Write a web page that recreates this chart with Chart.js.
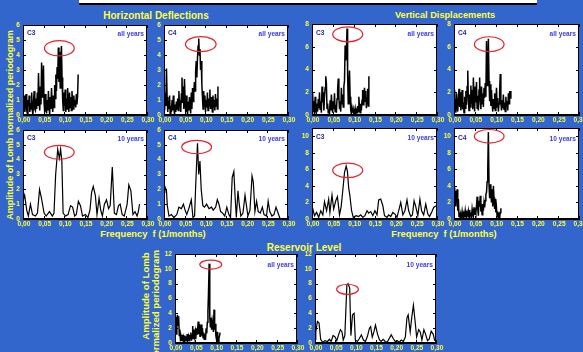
<!DOCTYPE html>
<html>
<head>
<meta charset="utf-8">
<script src="https://cdn.jsdelivr.net/npm/chart.js@4.4.1/dist/chart.umd.min.js"></script>
<style>
  body { margin: 0; background: #3366cc; width: 583px; height: 352px; overflow: hidden; position: relative;
         font-family: "Liberation Sans", Arial, sans-serif; }
  canvas { position: absolute; }
  .t { position: absolute; color: #ffff3c; font-weight: bold; white-space: nowrap; transform: translate(-50%, -50%); }
  .v { transform: translate(-50%, -50%) rotate(-90deg); }
  #bar { position: absolute; left: 79px; top: 0; width: 458px; height: 3px; background: #fff; border-bottom: 2px solid #000; }
</style>
</head>
<body>
<div id="bar"></div>
<div class="t" style="left:156px;top:15px;font-size:10px">Horizontal Deflections</div>
<div class="t" style="left:445px;top:15px;font-size:9.2px">Vertical Displacements</div>
<div class="t" style="left:153px;top:234px;font-size:9.3px">Frequency&nbsp; f (1/months)</div>
<div class="t" style="left:444px;top:234px;font-size:9.3px">Frequency&nbsp; f (1/months)</div>
<div class="t" style="left:304px;top:247px;font-size:10px">Reservoir Level</div>
<div class="t v" style="left:10px;top:125px;font-size:9px">Amplitude of Lomb normalized periodogram</div>
<div class="t v" style="left:145px;top:296px;font-size:9.6px">Amplitude of Lomb</div>
<div class="t v" style="left:155px;top:306px;font-size:9.6px">normalized periodogram</div>

<script>
// frequency spacing of the densely sampled periodograms (1/months)
const DF = 0.0015;

// Horizontal deflections, all years
const hC3All = [1.2,0.5,1.3,0.2,0.9,1.4,0.3,0.1,1.0,0.6, 1.3,0.2,0.8,0.4,1.5,0.3,0.0,0.9,1.6,0.4,
  0.3,1.1,0.4,1.5,0.6,2.8,0.9,0.3,1.9,0.7, 3.5,1.2,2.0,3.3,0.8,0.2,1.4,0.5,0.1,1.0,
  0.3,1.6,0.6,0.0,1.2,0.4,1.8,0.7,0.2,1.3, 0.5,2.0,1.1,2.7,1.6,3.2,2.4,4.5,2.2,4.2,
  1.8,3.8,4.6,2.5,1.0,0.3,1.5,0.6,1.7,0.2, 1.1,0.4,1.8,0.7,0.2,1.5,0.5,1.2,0.3,1.6,
  0.8,0.4,1.3,0.6,1.0,0.5,1.4,0.7,1.2,2.7];
const hC4All = [1.0,0.3,1.5,0.6,3.1,1.2,0.2,0.9,0.4,1.3, 0.1,0.6,0.2,1.0,0.3,1.3,0.5,0.0,0.7,0.2,
  0.9,0.4,1.1,0.3,1.6,0.6,1.0,0.2,1.4,2.5, 0.8,1.9,0.4,2.4,1.0,0.2,1.3,0.5,0.0,0.9,
  0.3,1.2,0.6,0.1,1.5,0.4,1.8,0.9,1.4,2.2, 1.6,2.9,3.6,2.5,3.8,4.6,5.1,4.0,4.4,3.0,
  3.6,2.1,1.2,0.4,1.6,0.6,1.3,0.2,1.0,0.5, 1.5,0.3,1.1,0.6,1.7,0.4,1.2,0.7,0.2,1.3,
  0.5,1.0,0.3,1.4,0.6,1.1,0.4,1.9];

// Vertical displacements, all years
const vC3All = [0.8,1.9,0.3,1.2,0.1,1.6,0.4,0.2,1.0,0.3, 1.4,0.6,2.0,0.5,1.2,0.2,2.5,1.1,2.0,0.4,
  1.6,2.4,3.4,2.8,0.6,1.0,0.2,0.5,0.1,1.3, 0.4,1.8,0.7,0.2,1.2,0.5,1.9,0.3,0.9,0.2,
  1.4,2.2,3.2,1.6,0.5,1.2,0.3,2.4,1.0,1.8, 0.7,2.5,3.0,6.1,4.8,5.5,7.6,3.5,1.0,2.8,
  3.9,1.6,0.4,0.1,0.6,0.2,0.5,0.0,0.3,0.6, 0.1,0.4,0.2,0.8,0.3,1.6,0.6,0.2,1.0,0.4,
  1.3,2.2,0.9,1.8,2.4,1.2,2.1,0.6,1.5,2.3, 0.8,3.4];
const vC4All = [2.2,0.6,1.4,0.2,1.9,0.8,0.3,1.5,2.3,0.7, 2.0,0.4,1.2,2.2,0.5,1.1,0.2,1.6,0.6,2.1,
  0.9,2.5,3.9,1.3,0.4,1.8,0.7,2.6,1.0,2.2, 0.5,3.3,1.4,0.3,2.5,1.1,2.9,0.6,1.7,0.4,
  2.2,3.3,1.2,0.5,2.5,1.0,1.9,0.7,2.4,1.5, 2.8,1.6,6.5,2.6,4.2,6.7,3.0,1.2,2.7,0.8,
  2.2,1.0,0.3,1.4,0.6,1.9,0.4,1.2,2.4,0.7, 1.5,0.3,1.0,2.0,3.6,1.1,0.4,1.3,0.6,1.8,
  0.5,1.1,0.3,1.6,0.7,1.2,0.4,1.9,1.0,2.1, 1.5,2.1];

// Horizontal deflections, 10 years
const hC3TenF = [0,0.004,0.009,0.013,0.018,0.023,0.030,0.035,0.040,0.044,0.051,0.056,0.064,0.071,0.075,
  0.079,0.084,0.088,0.091,0.094,0.097,0.103,0.109,0.115,0.120,0.125,0.129,0.134,0.139,0.144,
  0.151,0.157,0.162,0.166,0.170,0.175,0.179,0.184,0.188,0.192,0.197,0.202,0.207,0.211,0.216,
  0.221,0.226,0.231,0.235,0.240,0.245,0.252,0.256,0.261,0.266,0.271,0.276,0.279,0.282];
const hC3TenA = [1.2,1.6,0.6,0.2,1.0,0.3,0.2,0.4,2.0,1.5,0.4,0.2,0.5,0.2,0.4,
  3.0,4.7,4.1,4.7,3.9,0.4,0.2,0.3,0.9,0.8,0.2,0.3,1.2,0.9,0.2,
  0.3,0.1,0.6,1.8,2.2,1.6,0.3,1.4,0.6,0.2,1.0,1.3,0.7,0.9,3.5,
  0.4,0.3,0.9,1.0,0.3,0.2,1.0,2.3,1.9,0.3,0.5,0.2,0.5,1.0];
const hC4TenF = [0,0.002,0.006,0.008,0.012,0.018,0.024,0.031,0.036,0.042,0.047,0.051,0.055,0.060,0.066,
  0.070,0.074,0.077,0.081,0.084,0.087,0.090,0.094,0.098,0.103,0.109,0.115,0.119,0.125,0.129,
  0.133,0.137,0.142,0.147,0.152,0.157,0.161,0.165,0.169,0.172,0.175,0.179,0.182,0.186,0.191,
  0.196,0.200,0.203,0.208,0.213,0.216,0.220,0.224,0.228,0.233,0.238,0.242,0.248,0.252,0.256,
  0.261,0.266,0.271,0.276,0.281];
const hC4TenA = [1.8,2.2,1.9,0.9,0.2,0.3,0.1,0.3,0.8,0.7,1.0,0.6,0.3,0.7,1.3,
  0.1,0.2,2.5,5.1,3.0,3.9,2.0,0.9,0.8,1.0,0.7,0.8,0.6,0.8,1.3,
  1.0,0.5,0.4,0.2,0.8,0.3,0.1,2.8,3.2,1.5,0.1,1.9,1.0,0.2,0.4,
  1.6,0.8,0.2,0.6,2.9,2.5,0.5,1.2,0.5,0.4,0.8,0.3,0.2,1.2,0.5,
  0.2,0.3,0.8,0.4,0.0];

// Vertical displacements, 10 years
const vC3TenF = [0,0.002,0.006,0.011,0.016,0.021,0.026,0.030,0.035,0.040,0.043,0.048,0.052,0.057,0.061,
  0.066,0.070,0.074,0.078,0.082,0.085,0.088,0.091,0.095,0.099,0.106,0.112,0.117,0.122,0.127,
  0.132,0.136,0.141,0.146,0.151,0.156,0.160,0.165,0.170,0.174,0.180,0.184,0.189,0.194,0.199,
  0.204,0.209,0.213,0.218,0.223,0.228,0.232,0.237,0.241,0.245,0.249,0.254,0.259,0.263,0.268,
  0.273,0.278,0.282,0.287,0.292,0.298];
const vC3TenA = [0.8,1.2,0.4,0.8,0.2,1.0,0.5,2.1,1.0,2.4,0.8,2.9,1.2,2.2,2.7,
  0.5,1.5,3.5,5.6,6.4,5.8,3.8,2.8,1.0,0.2,0.4,0.3,0.5,0.2,0.4,
  1.0,0.7,0.9,0.4,1.0,0.5,2.3,2.4,1.6,0.4,0.2,0.5,0.3,0.8,0.6,
  0.2,1.2,2.0,0.5,1.0,2.3,1.0,0.3,0.5,2.2,1.5,0.4,2.4,1.0,0.5,
  1.8,0.6,0.3,0.8,1.4,1.6];
const vC4Ten = [3.0,3.8,1.6,3.4,2.2,3.6,1.0,2.4,0.3,0.8, 0.1,0.5,0.2,0.9,0.3,0.0,0.6,0.2,1.0,0.4,
  0.1,0.7,0.3,0.9,0.2,1.1,0.4,0.8,0.2,1.2, 0.6,0.3,1.4,0.5,1.0,0.7,1.6,2.7,1.2,0.4,
  2.2,1.5,2.8,0.9,1.3,0.5,1.8,1.0,2.0,1.4, 2.2,3.0,3.2,4.5,6.0,10.5,4.2,2.5,4.2,3.0,
  2.0,3.6,1.5,4.0,2.6,1.2,2.4,0.8,1.3,0.3, 0.9,0.2,0.5,0.1,0.8,1.3];

// Reservoir level
const resAll = [2.0,3.5,1.2,3.0,3.8,2.4,3.6,1.0,1.8,0.2, 0.8,0.3,1.1,0.2,0.7,0.1,1.0,0.4,0.9,0.2,
  1.2,0.5,0.9,0.3,1.1,0.6,1.4,0.3,1.0,2.3, 0.6,1.8,0.9,1.5,0.5,2.0,1.1,1.6,2.9,1.2,
  2.6,0.9,1.8,2.5,1.0,2.0,0.7,1.4,0.5,1.2, 0.4,2.0,1.3,2.8,4.3,7.0,10.7,3.5,2.2,3.4,
  1.8,3.0,2.4,1.5,4.5,1.8,2.6,1.0,0.5,1.5, 0.3,0.0,0.6,1.0,1.4];
const resTenF = [0,0.002,0.006,0.010,0.014,0.019,0.025,0.031,0.036,0.040,0.045,0.050,0.054,0.059,0.063,
  0.067,0.070,0.074,0.079,0.082,0.086,0.089,0.093,0.097,0.100,0.105,0.110,0.115,0.120,0.125,
  0.130,0.135,0.138,0.142,0.146,0.150,0.155,0.160,0.164,0.169,0.174,0.179,0.184,0.189,0.194,
  0.199,0.204,0.209,0.214,0.219,0.224,0.228,0.231,0.236,0.240,0.244,0.248,0.252,0.257,0.261,
  0.265,0.270,0.274,0.279,0.283,0.288,0.293,0.297];
const resTenA = [0.5,1.5,2.9,2.7,0.5,0.1,0.3,0.2,0.5,0.2,1.0,0.8,0.3,1.2,1.8,
  1.5,0.4,1.0,7.8,8.0,7.4,1.0,3.8,4.0,0.4,0.2,0.6,1.1,0.4,0.2,
  0.9,2.0,2.2,0.8,1.5,2.4,1.2,0.4,0.2,0.5,0.2,0.1,0.6,1.1,0.6,
  0.2,0.3,0.1,0.4,0.2,0.8,3.4,3.8,1.5,3.5,5.1,3.0,0.8,1.8,1.5,
  0.4,1.8,1.2,0.3,0.5,1.6,1.2,0.3];

// circled peaks: [freq, amplitude, half width (freq), half height (amplitude)]
const ringHC3All = [0.088, 4.45, 0.036, 0.51];
const ringHC4All = [0.089, 4.72, 0.037, 0.50];
const ringVC3All = [0.0857, 7.09, 0.036, 0.66];
const ringVC4All = [0.0845, 6.22, 0.0356, 0.66];
const ringHC3Ten = [0.0878, 4.5, 0.036, 0.47];
const ringHC4Ten = [0.079, 4.85, 0.036, 0.45];
const ringVC3Ten = [0.0857, 5.88, 0.036, 0.88];
const ringVC4Ten = [0.0845, 10.0, 0.0356, 0.82];
const ringResAll = [0.088, 10.57, 0.027, 0.61];
const ringResTen = [0.0806, 7.24, 0.027, 0.68];

const even = vals => vals.map((v, i) => ({ x: i * DF, y: v }));
const paired = (f, a) => f.map((x, i) => ({ x: x, y: a[i] }));

const YELLOW = "#ffff3c";
const tickFont = { family: "'Liberation Sans', Arial", size: 6.6, weight: "bold" };

function decorate(p) {
  return {
    id: "deco",
    beforeDraw(chart) {
      const a = chart.chartArea, c = chart.ctx;
      c.save();
      c.fillStyle = "#fff";
      c.fillRect(a.left, a.top, a.width, a.height);
      c.restore();
    },
    afterDraw(chart) {
      const a = chart.chartArea, c = chart.ctx, xs = chart.scales.x, ys = chart.scales.y;
      c.save();
      c.strokeStyle = "#000";
      c.lineWidth = 1;
      c.strokeRect(a.left + 0.5, a.top + 0.5, a.width - 1, a.height - 1);
      // inward tick marks on all four sides
      c.beginPath();
      xs.ticks.forEach(t => {
        const x = Math.round(xs.getPixelForValue(t.value)) + 0.5;
        c.moveTo(x, a.bottom); c.lineTo(x, a.bottom - 3);
        c.moveTo(x, a.top); c.lineTo(x, a.top + 3);
      });
      ys.ticks.forEach(t => {
        const y = Math.round(ys.getPixelForValue(t.value)) + 0.5;
        c.moveTo(a.left, y); c.lineTo(a.left + 3, y);
        c.moveTo(a.right, y); c.lineTo(a.right - 3, y);
      });
      c.stroke();
      // red ring around the main peak
      const r = p.ring;
      const cx = xs.getPixelForValue(r[0]), cy = ys.getPixelForValue(r[1]);
      const rx = xs.getPixelForValue(r[0] + r[2]) - cx;
      const ry = cy - ys.getPixelForValue(r[1] + r[3]);
      c.strokeStyle = "#e8202a";
      c.lineWidth = 1.2;
      c.beginPath();
      c.ellipse(cx, cy, rx, ry, 0, 0, Math.PI * 2);
      c.stroke();
      // panel captions
      c.font = "bold 6.6px 'Liberation Sans', Arial";
      c.textBaseline = "middle";
      if (p.name) {
        c.fillStyle = "#2626b4";
        c.textAlign = "left";
        c.fillText(p.name, a.left + 4, a.top + p.dy - 1);
      }
      c.fillStyle = "#3a3af2";
      c.textAlign = "right";
      c.fillText(p.span, a.right - 3, a.top + p.dy);
      c.restore();
    }
  };
}

const panels = [
  { L: 23,  T: 25,  W: 124, H: 90, ymax: 6,  ystep: 1, pts: even(hC3All), lw: 1.5, ring: ringHC3All, name: "C3", span: "all years", dy: 9 },
  { L: 164, T: 25,  W: 124, H: 90, ymax: 6,  ystep: 1, pts: even(hC4All), lw: 1.5, ring: ringHC4All, name: "C4", span: "all years", dy: 9 },
  { L: 312, T: 24,  W: 125, H: 91, ymax: 8,  ystep: 2, pts: even(vC3All), lw: 1.5, ring: ringVC3All, name: "C3", span: "all years", dy: 10 },
  { L: 454, T: 24,  W: 125, H: 91, ymax: 8,  ystep: 2, pts: even(vC4All), lw: 1.5, ring: ringVC4All, name: "C4", span: "all years", dy: 10 },
  { L: 23,  T: 130, W: 124, H: 89, ymax: 6,  ystep: 1, pts: paired(hC3TenF, hC3TenA), lw: 1.2, ring: ringHC3Ten, name: "C3", span: "10 years", dy: 9 },
  { L: 164, T: 130, W: 124, H: 89, ymax: 6,  ystep: 1, pts: paired(hC4TenF, hC4TenA), lw: 1.2, ring: ringHC4Ten, name: "C4", span: "10 years", dy: 9 },
  { L: 312, T: 128, W: 125, H: 91, ymax: 11, ystep: 2, pts: paired(vC3TenF, vC3TenA), lw: 1.2, ring: ringVC3Ten, name: "C3", span: "10 years", dy: 10 },
  { L: 454, T: 128, W: 125, H: 91, ymax: 11, ystep: 2, pts: even(vC4Ten), lw: 1.5, ring: ringVC4Ten, name: "C4", span: "10 years", dy: 11 },
  { L: 175, T: 254, W: 122, H: 89, ymax: 12, ystep: 2, pts: even(resAll), lw: 1.5, ring: ringResAll, name: "", span: "all years", dy: 11 },
  { L: 315, T: 254, W: 121, H: 89, ymax: 12, ystep: 2, pts: paired(resTenF, resTenA), lw: 1.2, ring: ringResTen, name: "", span: "10 years", dy: 11 }
];

const PAD_L = 22, PAD_T = 6, PAD_R = 10, PAD_B = 14;

panels.forEach(p => {
  const cv = document.createElement("canvas");
  cv.width = p.W + PAD_L + PAD_R;
  cv.height = p.H + PAD_T + PAD_B;
  cv.style.left = (p.L - PAD_L) + "px";
  cv.style.top = (p.T - PAD_T) + "px";
  document.body.appendChild(cv);

  new Chart(cv.getContext("2d"), {
    type: "line",
    data: {
      datasets: [{
        data: p.pts,
        borderColor: "#000",
        borderWidth: p.lw,
        pointRadius: 0,
        tension: 0,
        fill: false
      }]
    },
    options: {
      responsive: false,
      animation: false,
      devicePixelRatio: 1,
      layout: { padding: { left: 0, top: PAD_T, right: PAD_R, bottom: 0 } },
      plugins: { legend: { display: false }, tooltip: { enabled: false } },
      scales: {
        x: {
          type: "linear", min: 0, max: 0.3,
          grid: { drawOnChartArea: false, drawTicks: false },
          border: { color: "#000" },
          ticks: {
            stepSize: 0.05, color: YELLOW, font: tickFont, padding: 1, labelOffset: 1,
            maxRotation: 0, autoSkip: false,
            callback: v => v.toFixed(2).replace(".", ",")
          },
          afterFit: s => { s.height = PAD_B; s.paddingLeft = 0; s.paddingRight = 0; }
        },
        y: {
          min: 0, max: p.ymax,
          grid: { drawOnChartArea: false, drawTicks: false },
          border: { color: "#000" },
          ticks: { stepSize: p.ystep, includeBounds: false, color: YELLOW, font: tickFont, padding: 3 },
          afterFit: s => { s.width = PAD_L; s.paddingTop = 0; s.paddingBottom = 0; }
        }
      }
    },
    plugins: [decorate(p)]
  });
});
</script>
</body>
</html>
